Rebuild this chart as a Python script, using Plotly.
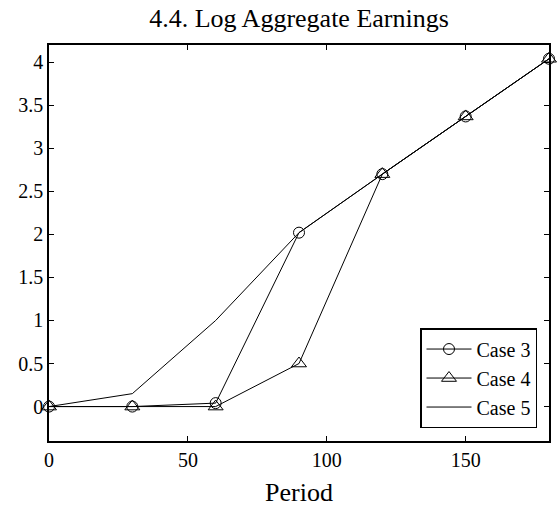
import plotly.graph_objects as go

periods = [0, 30, 60, 90, 120, 150, 180]
case3 = [0.0, 0.0, 0.04, 2.02, 2.70, 3.37, 4.04]
case4 = [0.0, 0.0, 0.0, 0.50, 2.70, 3.37, 4.04]
case5 = [0.0, 0.15, 1.0, 2.02, 2.70, 3.37, 4.04]

x_ticks = [0, 50, 100, 150]
y_ticks = [0, 0.5, 1, 1.5, 2, 2.5, 3, 3.5, 4]
y_labels = ["0", "0.5", "1", "1.5", "2", "2.5", "3", "3.5", "4"]

font = "Liberation Serif, Times New Roman, serif"

fig = go.Figure()
fig.add_trace(go.Scatter(x=periods, y=case3, name="Case 3", mode="lines+markers",
                         cliponaxis=False,
                         line=dict(color="black", width=1),
                         marker=dict(symbol="circle-open", size=11, color="black", line=dict(width=1))))
fig.add_trace(go.Scatter(x=periods, y=case4, name="Case 4", mode="lines+markers",
                         cliponaxis=False,
                         line=dict(color="black", width=1),
                         marker=dict(symbol="triangle-up-open", size=13, color="black", line=dict(width=1))))
fig.add_trace(go.Scatter(x=periods, y=case5, name="Case 5", mode="lines",
                         cliponaxis=False,
                         line=dict(color="black", width=1)))

axis_common = dict(showline=True, linecolor="black", linewidth=1.5, mirror="ticks",
                   ticks="inside", ticklen=5, tickcolor="black", tickwidth=1, showgrid=False,
                   zeroline=False, tickfont=dict(family=font, size=20, color="black"))

fig.update_layout(
    width=558, height=509,
    margin=dict(l=49, r=7, t=45, b=68),
    paper_bgcolor="white", plot_bgcolor="white",
    title=dict(text="4.4. Log Aggregate Earnings", x=0.5, xanchor="center",
               xref="paper",
               y=0.964, yanchor="middle",
               font=dict(family=font, size=26, color="black")),
    xaxis=dict(range=[0, 180], tickvals=x_ticks,
               title=dict(text="Period", font=dict(family=font, size=26, color="black"), standoff=13),
               **axis_common),
    yaxis=dict(range=[-0.4, 4.2], tickvals=y_ticks, ticktext=y_labels, **axis_common),
    legend=dict(x=0.976, y=0.159, xanchor="right", yanchor="middle",
                bordercolor="black", borderwidth=1.5, bgcolor="white",
                font=dict(family=font, size=20, color="black"),
                tracegroupgap=0, itemwidth=45),
    showlegend=True,
)

fig.write_html("out.html", config={"displayModeBar": False},
               post_script="document.body.style.margin='0';")
